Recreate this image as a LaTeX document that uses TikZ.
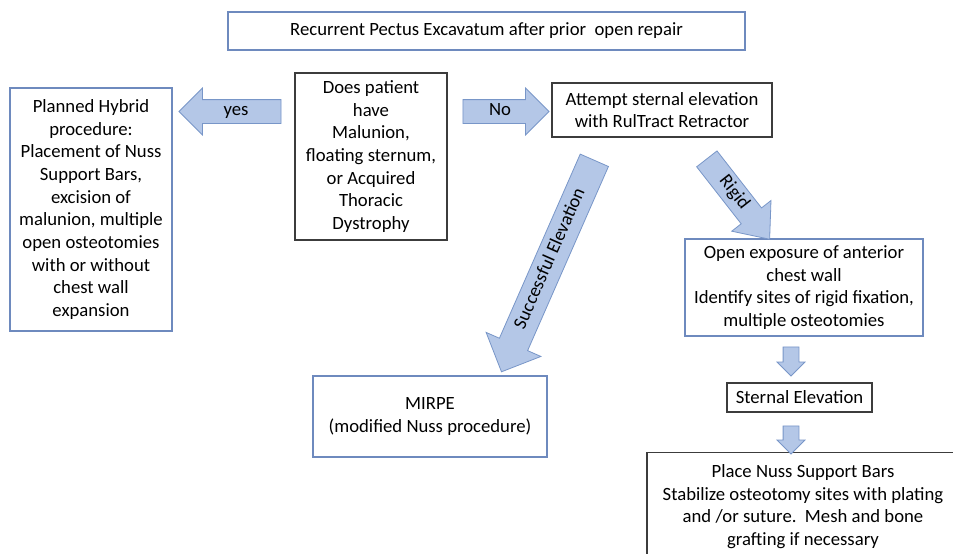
\documentclass[tikz,border=0pt]{standalone}
\usepackage{fontspec}
\setmainfont{Carlito}
\usetikzlibrary{shapes.arrows}
\definecolor{afill}{RGB}{180,199,231}
\definecolor{aline}{RGB}{120,150,200}
\definecolor{bblue}{RGB}{110,138,190}
\definecolor{bdark}{RGB}{60,60,60}
\begin{document}
\begin{tikzpicture}[x=1pt,y=-1pt,
  box/.style={draw, line width=1.1pt, align=center, inner sep=0pt, font=\fontsize{18.7}{22.7}\selectfont},
  bluebox/.style={box, draw=bblue},
  darkbox/.style={box, draw=bdark},
  fat/.style={single arrow, draw=aline, fill=afill, line width=0.8pt, inner xsep=2pt,
    text height=12pt, text depth=4pt, font=\fontsize{18.7}{22}\selectfont, single arrow tip angle=90}]
\fill[white] (0,0) rectangle (953,554);
\clip (0,0) rectangle (953,554);
\node[bluebox, minimum width=517, minimum height=38] (top) at (486.5,31)
  {Recurrent Pectus Excavatum after prior\ \ open repair};
\node[darkbox, minimum width=152, minimum height=167] (q) at (371,156.5)
  {Does patient\\have\\Malunion,\\floating sternum,\\or Acquired\\Thoracic\\Dystrophy};
\node[bluebox, minimum width=162, minimum height=243] (hyb) at (91,209.5)
  {Planned Hybrid\\procedure:\\Placement of Nuss\\Support Bars,\\excision of\\malunion, multiple\\open osteotomies\\with or without\\chest wall\\expansion};
\node[darkbox, minimum width=220, minimum height=54] (att) at (662,110)
  {Attempt sternal elevation\\with RulTract Retractor};
\node[bluebox, minimum width=238, minimum height=97] (open) at (804,287.5)
  {Open exposure of anterior\\chest wall\\Identify sites of rigid fixation,\\multiple osteotomies};
\node[darkbox, minimum width=145, minimum height=29] (ster) at (799.5,397.5)
  {Sternal Elevation};
\node[darkbox, anchor=north, minimum width=312, minimum height=108] (place) at (803,452)
  {Place Nuss Support Bars\\Stabilize osteotomy sites with plating\\and /or suture.\ \ Mesh and bone\\grafting if necessary};
\node[bluebox, minimum width=234, minimum height=81] (mirpe) at (430,416.5)
  {MIRPE\\(modified Nuss procedure)};
% fat arrows
\node[fat, shape border rotate=180, minimum height=102, minimum width=46,
  single arrow head extend=11.5pt, inner ysep=3.5pt] (yes) at (236,111.5) {yes};
\node[fat, minimum height=86, minimum width=46,
  single arrow head extend=11.5pt, inner ysep=3.5pt] (no) at (500,111.5) {No};
\node[fat, rotate=66.3, shape border rotate=180, minimum height=231, minimum width=59,
  single arrow head extend=14.5pt, inner ysep=7pt] (succ) at (551,259) {Successful Elevation};
\node[fat, rotate=-52, minimum height=102, minimum width=49,
  single arrow head extend=12pt, inner ysep=4.5pt, single arrow tip angle=80] (rigid) at (733.5,193) {Rigid};
\node[fat, rotate=-90, minimum height=29, minimum width=27, single arrow head extend=6pt,
  inner ysep=7.5pt, inner xsep=0pt, text height=0pt, text depth=0pt] (d1) at (791,357.5) {};
\node[fat, rotate=-90, minimum height=28, minimum width=27, single arrow head extend=6pt,
  inner ysep=7.5pt, inner xsep=0pt, text height=0pt, text depth=0pt] (d2) at (791,436) {};
\end{tikzpicture}
\end{document}
